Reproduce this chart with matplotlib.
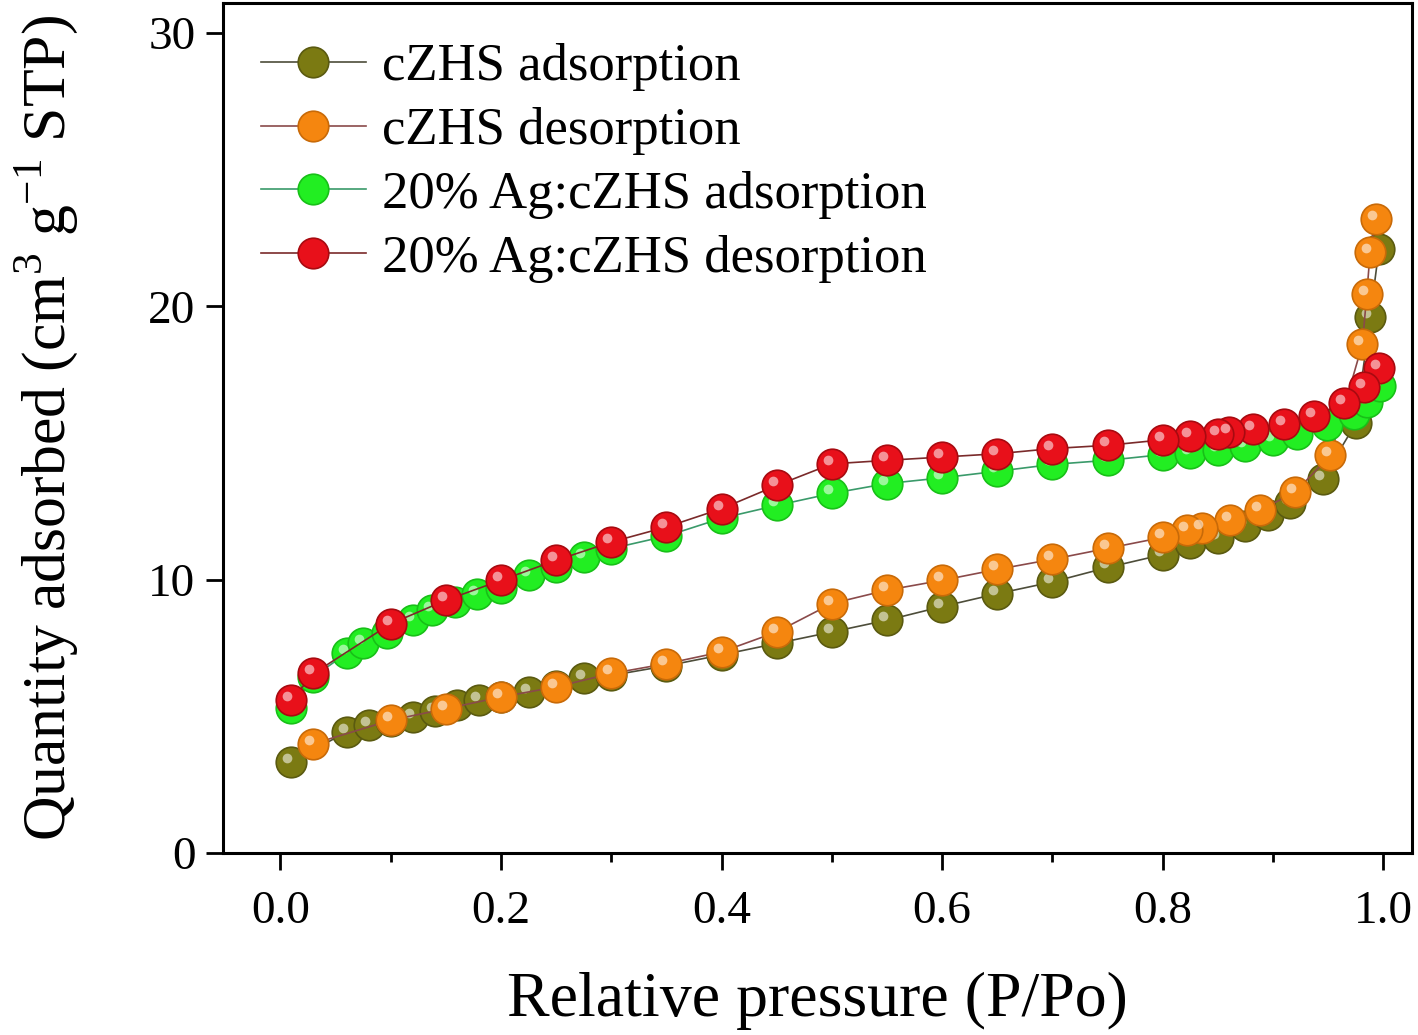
import numpy as np
import matplotlib
matplotlib.use('Agg')
import matplotlib.pyplot as plt
import matplotlib.transforms as mtransforms

plt.rcParams['font.family'] = ['Liberation Serif', 'DejaVu Serif']
plt.rcParams['mathtext.fontset'] = 'custom'
plt.rcParams['mathtext.rm'] = 'Liberation Serif'

# cZHS adsorption
czhs_ads_x = [0.01, 0.06, 0.08, 0.10, 0.12, 0.14, 0.16, 0.18, 0.20, 0.225, 0.25, 0.275,
              0.30, 0.35, 0.40, 0.45, 0.50, 0.55, 0.60, 0.65, 0.70, 0.75, 0.80, 0.825,
              0.85, 0.875, 0.895, 0.915, 0.945, 0.975, 0.988, 0.996]
czhs_ads_y = [3.34, 4.43, 4.70, 4.82, 4.98, 5.20, 5.40, 5.59, 5.72, 5.90, 6.10, 6.42,
              6.50, 6.85, 7.25, 7.67, 8.09, 8.52, 9.02, 9.49, 9.92, 10.45, 10.92, 11.33,
              11.54, 11.95, 12.36, 12.80, 13.70, 15.72, 19.60, 22.10]

# cZHS desorption
czhs_des_x = [0.993, 0.988, 0.985, 0.981, 0.952, 0.920, 0.888, 0.861, 0.836, 0.822, 0.80,
              0.75, 0.70, 0.65, 0.60, 0.55, 0.50, 0.45, 0.40, 0.35, 0.30, 0.25, 0.20,
              0.15, 0.10, 0.03]
czhs_des_y = [23.20, 21.99, 20.46, 18.63, 14.55, 13.21, 12.54, 12.18, 11.88, 11.81, 11.55,
              11.15, 10.75, 10.38, 9.98, 9.62, 9.13, 8.09, 7.36, 6.93, 6.57, 6.08, 5.71,
              5.28, 4.86, 4.00]

# 20% Ag:cZHS adsorption
ag_ads_x = [0.01, 0.03, 0.06, 0.075, 0.097, 0.12, 0.137, 0.158, 0.178, 0.20, 0.225, 0.25,
            0.275, 0.30, 0.35, 0.40, 0.45, 0.50, 0.55, 0.60, 0.65, 0.70, 0.75, 0.80, 0.825,
            0.85, 0.875, 0.90, 0.922, 0.949, 0.973, 0.985, 0.997]
ag_ads_y = [5.29, 6.45, 7.31, 7.67, 8.04, 8.52, 8.88, 9.19, 9.49, 9.68, 10.16, 10.46,
            10.83, 11.14, 11.60, 12.25, 12.72, 13.16, 13.52, 13.73, 13.97, 14.22, 14.37,
            14.58, 14.65, 14.75, 14.88, 15.12, 15.35, 15.65, 16.08, 16.50, 17.10]

# 20% Ag:cZHS desorption
ag_des_x = [0.996, 0.982, 0.964, 0.937, 0.91, 0.882, 0.86, 0.85, 0.825, 0.80, 0.75, 0.70,
            0.65, 0.60, 0.55, 0.50, 0.45, 0.40, 0.35, 0.30, 0.25, 0.20, 0.15, 0.10, 0.03, 0.01]
ag_des_y = [17.73, 17.04, 16.45, 16.00, 15.70, 15.50, 15.40, 15.35, 15.25, 15.12, 14.92,
            14.80, 14.61, 14.49, 14.37, 14.24, 13.45, 12.60, 11.93, 11.38, 10.71, 9.98,
            9.25, 8.39, 6.57, 5.59]

series = [
    ('cZHS adsorption', czhs_ads_x, czhs_ads_y, '#7b7a12', '#5a5a10', '#4d4d3a'),
    ('cZHS desorption', czhs_des_x, czhs_des_y, '#f5860f', '#c86a08', '#8a4a4a'),
    ('20% Ag:cZHS adsorption', ag_ads_x, ag_ads_y, '#22ee22', '#18c018', '#3a9a6a'),
    ('20% Ag:cZHS desorption', ag_des_x, ag_des_y, '#e8101a', '#a80a10', '#7a2a2a'),
]

fig = plt.figure(figsize=(14.18, 10.35), dpi=100)
ax = fig.add_axes([0.1573, 0.1758, 0.8385, 0.8212])

ms = 22
shift = mtransforms.ScaledTranslation(-4 / 100, 4 / 100, fig.dpi_scale_trans)

handles = []
for label, xs, ys, face, edge, line_c in series:
    ln, = ax.plot(xs, ys, '-', color=line_c, lw=1.2, marker='o', ms=ms,
                  markerfacecolor=face, markeredgecolor=edge, markeredgewidth=1.2,
                  label=label, zorder=2)
    # glossy highlight on each sphere
    ax.plot(xs, ys, 'o', ms=7, color='white', alpha=0.55, mec='none',
            transform=ax.transData + shift, zorder=2)
    handles.append(ln)

ax.set_xlim(-0.052, 1.026)
ax.set_ylim(0, 31.1)
ax.set_xticks([0.0, 0.2, 0.4, 0.6, 0.8, 1.0])
ax.set_xticks([0.1, 0.3, 0.5, 0.7, 0.9], minor=True)
ax.set_yticks([0, 10, 20, 30])
ax.set_xticklabels(['0.0', '0.2', '0.4', '0.6', '0.8', '1.0'])

for s in ax.spines.values():
    s.set_linewidth(2.2)
ax.tick_params(axis='both', which='major', direction='out', length=12, width=2,
               labelsize=34, pad=8)
ax.tick_params(axis='x', which='major', pad=15)
ax.tick_params(axis='x', which='minor', direction='out', length=6.5, width=2)

ax.set_xlabel('Relative pressure (P/Po)', fontsize=46)
ax.xaxis.set_label_coords(0.5, -0.14)
ax.set_ylabel(r'Quantity adsorbed (cm$^3$ g$^{-1}$ STP)', fontsize=44.5)
ax.yaxis.set_label_coords(-0.12, 0.5)

ax.legend(handles=handles, loc='upper left', frameon=False, fontsize=38,
          bbox_to_anchor=(0.005, 0.99), handlelength=2.0, handletextpad=0.3,
          labelspacing=0.30, borderaxespad=0.2)

fig.savefig('out.png', dpi=100)
